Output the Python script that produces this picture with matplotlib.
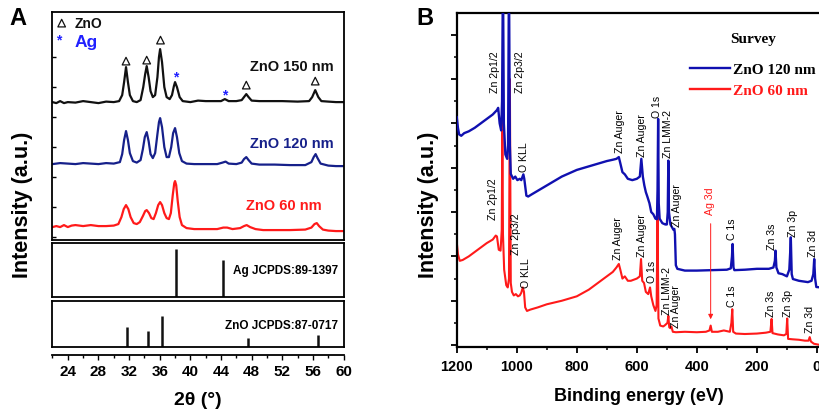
import matplotlib
matplotlib.use("Agg")
import matplotlib.pyplot as plt
from matplotlib.lines import Line2D

plt.rcParams['font.family'] = ['Liberation Sans', 'DejaVu Sans']
plt.rcParams['font.weight'] = 'bold'

# ---------------- XRD (panel A) ----------------
tt_150 = [22, 22.5, 23, 23.5, 24, 25, 26, 27, 28, 29, 30, 30.7, 31.1, 31.35, 31.6, 31.85, 32.1, 32.5,
          33, 33.5, 33.85, 34.1, 34.3, 34.55, 34.8, 35.1, 35.4, 35.7, 35.9, 36.05, 36.3, 36.6, 36.9,
          37.3, 37.6, 37.85, 38.0, 38.25, 38.6, 39, 40, 41, 42, 43, 44, 44.5, 45, 46, 46.7, 47.0,
          47.3, 47.6, 48, 49, 50, 52, 54, 55.5, 55.9, 56.3, 56.7, 57.1, 58, 59, 60]
i_150 = [135, 134, 136, 134, 135, 134.5, 136, 135, 134, 135.5, 135, 136, 142, 155, 170, 155, 142, 136,
         135, 137, 150, 163, 171, 160, 146, 140, 142, 160, 180, 188, 175, 150, 140,
         138, 142, 151, 155, 150, 140, 136, 135, 136.5, 136, 136, 136, 138, 136, 136, 137, 140,
         143, 140, 136.5, 136, 136, 136, 135.5, 136, 140, 147, 140, 136, 135.5, 135, 135]

tt_120 = [22, 23, 24, 25, 26, 27, 28, 29, 30, 30.8, 31.1, 31.35, 31.6, 31.85, 32.1, 32.5, 33, 33.5,
          33.8, 34.05, 34.3, 34.55, 34.8, 35.1, 35.4, 35.7, 35.9, 36.05, 36.3, 36.6, 36.9, 37.2, 37.5,
          37.75, 38.0, 38.25, 38.55, 38.9, 39.5, 40.5, 42, 43.5, 44.2, 44.6, 45, 46, 46.7, 47.0, 47.3,
          47.6, 48, 49, 51, 53, 55, 55.8, 56.1, 56.35, 56.6, 57, 58, 59, 60]
i_120 = [73, 74, 73.5, 73, 74, 73.5, 73, 74, 73.5, 75, 83, 97, 106, 97, 84, 76, 74.5, 77,
         88, 100, 105, 96, 83, 79, 84, 103, 115, 119, 110, 90, 80, 80, 90,
         104, 109, 100, 84, 76, 73.5, 73, 73, 73, 74.5, 75.5, 73.5, 73, 74.5, 78, 80,
         77, 73.5, 72.5, 72.5, 72, 72, 75, 80, 83, 79, 73.5, 71.5, 71, 71]

tt_60 = [22, 22.5, 23, 23.5, 24, 24.5, 25, 26, 27, 28, 29, 30, 30.6, 31.0, 31.3, 31.6, 31.9, 32.2,
         32.6, 33, 33.4, 33.8, 34.1, 34.3, 34.6, 34.9, 35.2, 35.5, 35.8, 36.05, 36.3, 36.6, 36.9,
         37.2, 37.45, 37.7, 37.9, 38.0, 38.15, 38.35, 38.6, 38.9, 39.5, 40.5, 41.5, 42.5, 43.5,
         44.3, 44.8, 45.5, 46.5, 47, 47.35, 47.8, 48.5, 49.5, 51, 53, 55, 55.8, 56.2, 56.5, 56.8,
         57.3, 58, 59, 60]
i_60 = [10, 11, 10, 12, 10, 11.5, 12, 11, 12, 11, 11, 11.5, 13, 20, 28, 32, 28, 20,
        14, 13, 15, 21, 26, 27, 24, 19, 18, 24, 32, 35, 32, 24, 19,
        18, 24, 42, 54, 56, 52, 36, 20, 12, 9, 8, 8, 8, 8,
        9.5, 9.5, 8, 9, 11, 12, 10, 8, 7, 7, 7, 7.5, 9.5, 13, 14, 11,
        7.5, 6.5, 6, 6]

# peak markers above the 150 nm trace
zno_mark_tt = [31.6, 34.3, 36.1, 47.3, 56.3]
zno_mark_i = [176, 177, 197, 152, 156]
ag_mark_tt = [38.1, 44.5]
ag_mark_i = [161, 143]

# reference cards
ag_card_tt = [38.12, 44.28]
ag_card_i = [100, 77]
zno_card_tt = [31.77, 34.42, 36.25, 47.54, 56.6]
zno_card_i = [64, 50, 100, 30, 38]

# ---------------- XPS (panel B) ----------------
be_120 = [1200, 1196, 1192, 1185, 1175, 1160, 1140, 1120, 1100, 1080, 1066, 1062, 1057, 1052, 1049,
          1046, 1043, 1038, 1032, 1029, 1026, 1023, 1020, 1012, 1005, 998, 990, 985, 978, 975, 968,
          962, 950, 900, 850, 800, 750, 700, 680, 668, 660, 655, 648, 640, 630, 615, 600, 590, 585,
          580, 575, 570, 565, 558, 552, 545, 538, 533, 531, 529, 527, 524, 515, 505, 500, 497, 495,
          493, 488, 483, 478, 475, 473, 470, 465, 440, 400, 350, 300, 287, 283, 281, 278, 275, 240,
          200, 160, 145, 140, 138, 135, 128, 115, 100, 92, 89, 87, 84, 80, 60, 30, 18, 12, 9, 6, 2, -13]
c_120 = [5.14, 4.9, 4.75, 4.72, 4.78, 4.82, 4.9, 5.0, 5.1, 5.2, 5.3, 5.35, 5.0, 4.84, 5.5,
         8.5, 5.0, 4.3, 4.2, 4.5, 8.5, 4.5, 3.86, 3.75, 3.8, 3.72, 3.75, 3.72, 3.85, 3.75, 3.37,
         3.35, 3.4, 3.6, 3.8, 3.95, 4.05, 4.15, 4.18, 4.2, 4.24, 4.1, 3.9, 3.85, 3.75, 3.72, 3.75, 3.8, 4.2,
         3.8, 3.6, 3.45, 3.35, 3.2, 3.0, 2.95, 2.85, 2.84, 3.5, 5.1, 3.2, 2.85, 2.75, 2.72, 2.72, 3.0, 4.16,
         3.0, 2.72, 2.66, 2.6, 2.62, 2.5, 1.8, 1.72, 1.68, 1.68, 1.69, 1.7, 1.73, 2.0, 2.28, 1.75, 1.69, 1.7,
         1.72, 1.72, 1.75, 1.9, 2.13, 1.75, 1.62, 1.6, 1.55, 1.7, 2.1, 2.43, 1.6, 1.49, 1.45, 1.42, 1.45, 1.6, 1.94, 1.5, 1.31, 1.3]

be_60 = [1200, 1196, 1190, 1180, 1160, 1140, 1120, 1100, 1080, 1070, 1066, 1060, 1054, 1050, 1048,
         1046, 1042, 1035, 1030, 1026, 1023, 1020, 1016, 1010, 1003, 996, 990, 985, 980, 976, 972,
         966, 955, 930, 900, 850, 800, 760, 720, 700, 680, 668, 660, 655, 648, 640, 630, 620, 600,
         590, 586, 582, 576, 570, 562, 556, 552, 545, 538, 534, 531, 528, 522, 512, 506, 498, 495,
         492, 488, 485, 480, 470, 440, 400, 370, 358, 354, 350, 330, 310, 290, 285, 282, 279, 270,
         240, 200, 170, 155, 151, 148, 130, 110, 102, 99, 96, 80, 60, 40, 28, 24, 20, 10, -13]
c_60 = [2.32, 2.05, 1.9, 1.92, 2.0, 2.1, 2.2, 2.3, 2.38, 2.47, 2.45, 2.15, 2.13, 2.6, 5.2,
        2.5, 1.7, 1.35, 1.3, 1.5, 6.0, 1.4, 1.2, 1.12, 1.15, 1.1, 1.12, 1.18, 1.3, 1.2, 0.85,
        0.77, 0.8, 0.85, 0.92, 1.0, 1.1, 1.25, 1.45, 1.55, 1.65, 1.75, 1.83, 1.7, 1.5, 1.55, 1.45, 1.45, 1.5,
        1.55, 1.94, 1.45, 1.4, 1.2, 1.15, 1.3, 1.1, 0.9, 0.77, 0.9, 2.96, 0.6, 0.44, 0.42, 0.45, 0.5, 0.66,
        0.4, 0.38, 0.42, 0.3, 0.29, 0.3, 0.29, 0.3, 0.33, 0.44, 0.3, 0.3, 0.33, 0.3, 0.5, 0.81, 0.3, 0.26,
        0.25, 0.26, 0.28, 0.3, 0.59, 0.27, 0.24, 0.22, 0.25, 0.6, 0.14, 0.13, 0.12, 0.1, 0.1, 0.18, 0.08, 0.03, 0.0]

# peak labels (text, binding energy, height of label foot)
lab_120 = ["Zn 2p1/2", "Zn 2p3/2", "O KLL", "Zn Auger", "Zn Auger", "O 1s", "Zn LMM-2", "Zn Auger",
           "C 1s", "Zn 3s", "Zn 3p", "Zn 3d"]
lab_120_be = [1073, 990, 977, 657, 583, 533, 497, 467, 284, 151, 81, 12]
lab_120_c = [5.71, 5.71, 3.93, 4.36, 4.27, 5.15, 4.24, 2.69, 2.39, 2.17, 2.46, 2.01]
lab_60 = ["Zn 2p1/2", "Zn 2p3/2", "O KLL", "Zn Auger", "Zn Auger", "O 1s", "Zn LMM-2", "Zn Auger",
          "C 1s", "Zn 3s", "Zn 3p", "Zn 3d"]
lab_60_be = [1079, 1001, 968, 662, 582, 548, 501, 468, 284, 153, 98, 23]
lab_60_c = [2.84, 2.05, 1.31, 1.94, 2.01, 1.42, 0.70, 0.41, 0.89, 0.66, 0.66, 0.29]

BLACK = '#111111'
NAVY = '#16208a'
RED = '#ff1a1a'
XBLUE = '#1010b0'

fig = plt.figure(figsize=(8.2, 4.1), dpi=100)

# ---- panel A: traces
ax1 = fig.add_axes([0.064, 0.412, 0.355, 0.556])
ax1.plot(tt_150, i_150, color=BLACK, lw=1.6)
ax1.plot(tt_120, i_120, color=NAVY, lw=1.6)
ax1.plot(tt_60, i_60, color=RED, lw=1.6)
ax1.scatter(zno_mark_tt, zno_mark_i, marker='^', s=30, facecolors='none', edgecolors=BLACK, linewidths=0.9)
for x, y in zip(ag_mark_tt, ag_mark_i):
    ax1.text(x, y, '*', color='#2020ff', fontsize=10, ha='center', va='center')
ax1.scatter([23.2], [214], marker='^', s=30, facecolors='none', edgecolors=BLACK, linewidths=0.9)
ax1.text(24.9, 214, 'ZnO', fontsize=10, va='center', color=BLACK)
ax1.text(22.8, 198, '*', color='#2020ff', fontsize=10, ha='center', va='center')
ax1.text(24.9, 196, 'Ag', fontsize=12.5, va='center', color='#2020ff')
ax1.text(58.7, 171, 'ZnO 150 nm', fontsize=10.5, ha='right', va='center', color=BLACK)
ax1.text(58.7, 94, 'ZnO 120 nm', fontsize=10.5, ha='right', va='center', color=NAVY)
ax1.text(57.1, 32, 'ZnO 60 nm', fontsize=10.5, ha='right', va='center', color=RED)
ax1.set_xlim(22, 60)
ax1.set_ylim(-3, 225)
ax1.set_xticks([])
ax1.set_yticks(range(0, 181, 30))
ax1.tick_params(axis='y', direction='in', length=3, width=1, labelleft=False)
for s in ax1.spines.values():
    s.set_linewidth(1.3)

# ---- reference cards
ax2 = fig.add_axes([0.064, 0.273, 0.355, 0.132])
ax2.vlines(ag_card_tt, 0, ag_card_i, color=BLACK, lw=1.8)
ax2.text(59.3, 56, 'Ag JCPDS:89-1397', fontsize=8.5, ha='right', va='center')
ax2.set_xlim(22, 60)
ax2.set_ylim(0, 112)
ax3 = fig.add_axes([0.064, 0.151, 0.355, 0.112])
ax3.vlines(zno_card_tt, 0, zno_card_i, color=BLACK, lw=1.8)
ax3.text(59.3, 70, 'ZnO JCPDS:87-0717', fontsize=8.5, ha='right', va='center')
ax3.set_xlim(22, 60)
ax3.set_ylim(0, 147)
for a in (ax2, ax3):
    a.set_xticks([])
    a.set_yticks([])
    for s in a.spines.values():
        s.set_linewidth(1.3)

# ---- separate 2theta axis
ax4 = fig.add_axes([0.064, 0.132, 0.355, 0.0001])
for k in ('left', 'right', 'top'):
    ax4.spines[k].set_visible(False)
ax4.spines['bottom'].set_linewidth(1.3)
ax4.set_xlim(22, 60)
ax4.set_yticks([])
ax4.set_xticks(range(24, 61, 4))
ax4.set_xticks(range(22, 61, 2), minor=True)
ax4.tick_params(axis='x', which='major', direction='out', length=3.5, width=1, labelsize=11, pad=3)
ax4.tick_params(axis='x', which='minor', direction='out', length=2, width=1)
for t in ax4.get_xticklabels():
    t.set_fontweight('bold')

fig.text(0.022, 0.956, 'A', fontsize=17, ha='center', va='center')
fig.text(0.027, 0.5, 'Intensity (a.u.)', fontsize=15.5, rotation=90, ha='center', va='center')
fig.text(0.241, 0.024, '2θ (°)', fontsize=14, ha='center', va='center')

# ---- panel B: XPS survey
ax5 = fig.add_axes([0.557, 0.151, 0.444, 0.815])
ax5.plot(be_60, c_60, color=RED, lw=1.5, zorder=2)
ax5.plot(be_120, c_120, color=XBLUE, lw=1.7, zorder=3)
for t, x, y in zip(lab_120, lab_120_be, lab_120_c):
    ax5.text(x, y, t, rotation=90, fontsize=7.6, fontweight='normal', ha='center', va='bottom')
for t, x, y in zip(lab_60, lab_60_be, lab_60_c):
    ax5.text(x, y, t, rotation=90, fontsize=7.6, fontweight='normal', ha='center', va='bottom')
ax5.text(357, 2.96, 'Ag 3d', rotation=90, fontsize=7.6, fontweight='normal', color=RED, ha='center', va='bottom')
ax5.annotate('', xy=(354, 0.52), xytext=(354, 2.8),
             arrowprops=dict(arrowstyle='-|>', color=RED, lw=0.7, mutation_scale=7))
ax5.set_xlim(1200, -13)
ax5.set_ylim(-0.045, 7.49)
ax5.set_xticks(range(1200, -1, -200))
ax5.set_xticks(range(1200, -1, -100), minor=True)
ax5.set_yticks(range(0, 8))
ax5.set_yticks([x + 0.5 for x in range(0, 7)], minor=True)
ax5.tick_params(axis='both', which='major', direction='out', length=4.5, width=1.3, labelsize=10.5, pad=4)
ax5.tick_params(axis='both', which='minor', direction='out', length=2.5, width=1.1)
ax5.tick_params(axis='y', labelleft=False)
for t in ax5.get_xticklabels():
    t.set_fontweight('bold')
for s in ax5.spines.values():
    s.set_linewidth(1.6)

handles = [Line2D([], [], color=XBLUE, lw=1.7), Line2D([], [], color=RED, lw=1.7)]
leg = ax5.legend(handles, ['ZnO 120 nm', 'ZnO 60 nm'], title='Survey', loc='upper left',
                 bbox_to_anchor=(0.625, 0.962), frameon=False, handlelength=2.6, handletextpad=0.2,
                 labelspacing=0.45, borderaxespad=0,
                 prop={'family': 'Liberation Serif', 'weight': 'bold', 'size': 11})
leg.get_title().set_fontproperties({'family': 'Liberation Serif', 'weight': 'bold', 'size': 11})
leg.texts[1].set_color(RED)
leg._legend_box.sep = 13

fig.text(0.518, 0.956, 'B', fontsize=17, ha='center', va='center')
fig.text(0.522, 0.5, 'Intensity (a.u.)', fontsize=15.5, rotation=90, ha='center', va='center')
fig.text(0.779, 0.032, 'Binding energy (eV)', fontsize=13, ha='center', va='center')

fig.savefig('out.png', dpi=100)
